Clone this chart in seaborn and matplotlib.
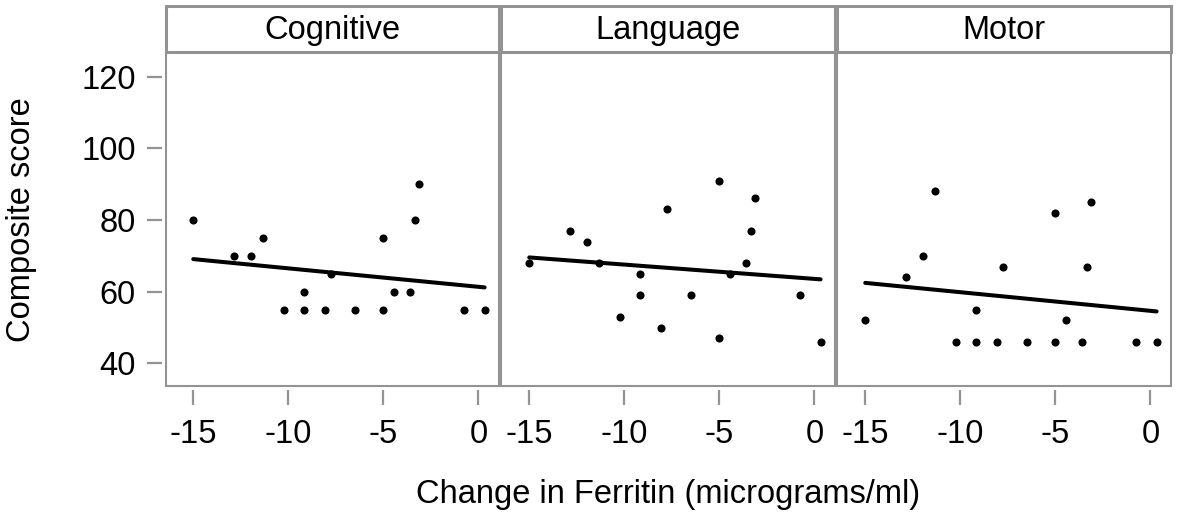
import matplotlib
matplotlib.use("Agg")
import numpy as np
import pandas as pd
import seaborn as sns
import matplotlib.pyplot as plt
from matplotlib.patches import Rectangle

# ---- data ----
ferritin_change = [-15.0, -12.84, -11.95, -11.32, -10.22, -9.19, -9.19, -8.07, -7.74,
                   -6.48, -5.01, -5.01, -4.44, -3.6, -3.35, -3.1, -0.75, 0.33]
cognitive = [80, 70, 70, 75, 55, 60, 55, 55, 65, 55, 75, 55, 60, 60, 80, 90, 55, 55]
language = [68, 77, 74, 68, 53, 65, 59, 50, 83, 59, 91, 47, 65, 68, 77, 86, 59, 46]
motor = [52, 64, 70, 88, 46, 55, 46, 46, 67, 46, 82, 46, 52, 46, 67, 85, 46, 46]
domains = ["Cognitive", "Language", "Motor"]
x_ticks = [-15, -10, -5, 0]
y_ticks = [40, 60, 80, 100, 120]

rows = []
for dom, vals in zip(domains, [cognitive, language, motor]):
    for xv, yv in zip(ferritin_change, vals):
        rows.append({"domain": dom, "ferritin": xv, "score": yv})
df = pd.DataFrame(rows)

sns.set_theme(style="white")
plt.rcParams["font.family"] = ["Liberation Sans", "DejaVu Sans"]
plt.rcParams["axes.unicode_minus"] = False

GRAY = "#939393"
FS = 23.5

g = sns.FacetGrid(df, col="domain", col_order=domains, sharex=True, sharey=True,
                  height=4, aspect=1, despine=False)
g.map_dataframe(sns.regplot, x="ferritin", y="score", ci=None, truncate=True,
                color="black",
                scatter_kws=dict(s=34, linewidths=0, alpha=1),
                line_kws=dict(color="black", lw=2.9))

fig = g.figure
fig.set_size_inches(11.8, 5.14)
fig.set_dpi(100)
fig.subplots_adjust(left=165.5 / 1180, right=1170.5 / 1180,
                    top=1 - 51.5 / 514, bottom=1 - 386 / 514, wspace=0.009)

strip_h = 45.5 / 334.5
for i, (ax, dom) in enumerate(zip(g.axes.flat, domains)):
    ax.set_title("")
    ax.set_xlabel("")
    ax.set_ylabel("")
    ax.set_xlim(-16.46, 1.06)
    ax.set_ylim(33.7, 127.0)
    ax.set_xticks(x_ticks)
    ax.set_xticklabels([str(t) for t in x_ticks])
    ax.set_yticks(y_ticks)
    ax.set_yticklabels([str(t) for t in y_ticks])
    for s in ax.spines.values():
        s.set_visible(False)
    ax.spines["bottom"].set_position(("outward", 3))
    ax.spines["left"].set_position(("outward", 2.5))
    ax.tick_params(axis="x", bottom=True, length=11, width=1.6, color=GRAY,
                   pad=10, labelsize=FS, labelcolor="black")
    if i == 0:
        ax.tick_params(axis="y", left=True, length=11, width=1.6, color=GRAY,
                       pad=8, labelsize=FS, labelcolor="black")
    else:
        ax.tick_params(axis="y", left=False, labelleft=False)
    ax.add_patch(Rectangle((0, 0), 1, 1, transform=ax.transAxes, fill=False,
                           ec=GRAY, lw=1.5, clip_on=False, zorder=5))
    ax.add_patch(Rectangle((0, 1), 1, strip_h, transform=ax.transAxes,
                           fc="white", ec=GRAY, lw=2.2, clip_on=False, zorder=5))
    ax.text(0.5, 1 + strip_h / 2 - 0.004, dom, transform=ax.transAxes, ha="center",
            va="center", fontsize=FS, color="black", zorder=6)

fig.text(668 / 1180, 1 - 495 / 514, "Change in Ferritin (micrograms/ml)",
         ha="center", va="center", fontsize=FS, color="black")
fig.text(22 / 1180, 1 - 220 / 514, "Composite score", rotation=90,
         ha="center", va="center", fontsize=FS, color="black")

fig.savefig("out.png", dpi=100, facecolor="white")
